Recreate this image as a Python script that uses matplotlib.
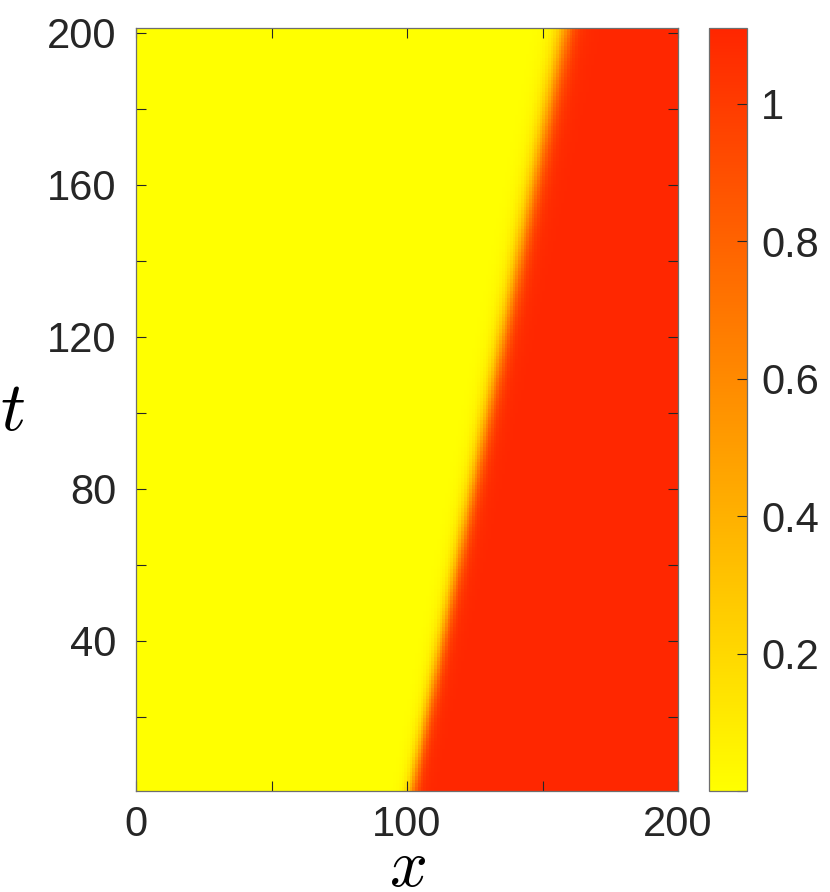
import numpy as np
import matplotlib.pyplot as plt
from matplotlib.colors import LinearSegmentedColormap

plt.rcParams["mathtext.fontset"] = "cm"
plt.rcParams["font.family"] = ["Liberation Sans", "DejaVu Sans"]

# grid of the simulation (cell centres)
x_vals = np.arange(0.5, 200, 1.0)
t_vals = np.arange(1, 201, 1.0)

# front: centre and width at the first and last time
front_start = 102.0
front_end = 158.5
width_start = 1.4
width_end = 2.2
u_left = 0.0
u_right = 1.1

x_ticks = [0, 100, 200]
t_ticks = [40, 80, 120, 160, 200]
cb_ticks = [0, 0.2, 0.4, 0.6, 0.8, 1.0]
cb_labels = ["", "0.2", "0.4", "0.6", "0.8", "1"]
clim = (0.0, 1.11)

frac = (t_vals - t_vals[0]) / (t_vals[-1] - t_vals[0])
centre = front_start + (front_end - front_start) * frac
width = width_start + (width_end - width_start) * frac
X, T = np.meshgrid(x_vals, t_vals)
u = u_left + (u_right - u_left) / (1 + np.exp(-(X - centre[:, None]) / width[:, None]))

cmap = LinearSegmentedColormap.from_list("yr", ["#ffff00", "#ff2600"])
ink = "#262626"
edge = "#6e6e6e"

fig = plt.figure(figsize=(8.3, 8.92), dpi=100)
ax = fig.add_axes([0.1639, 0.1132, 0.6530, 0.8554])
im = ax.imshow(u, origin="lower", cmap=cmap, vmin=clim[0], vmax=clim[1],
               extent=[0, 200, 0.5, 201.3], aspect="auto", interpolation="nearest")
ax.set_xlim(0, 200)
ax.set_ylim(0.5, 201.3)
ax.set_xticks(x_ticks)
ax.set_yticks(t_ticks)
ax.set_yticks([20, 60, 100, 140, 180], minor=True)
ax.set_xticks([50, 150], minor=True)
ax.tick_params(which="both", direction="in", top=True, right=True, color=ink,
               labelsize=30, labelcolor=ink, length=7, width=0.8)
ax.tick_params(axis="x", which="major", pad=10)
ax.tick_params(axis="y", which="major", pad=14)
for s in ax.spines.values():
    s.set_color(edge)
    s.set_linewidth(0.9)
ax.set_xlabel(r"$x$", fontsize=48, color="black", labelpad=-5)
ax.set_ylabel(r"$t$", fontsize=50, color="black", rotation=0, labelpad=0)
ax.yaxis.set_label_coords(-0.228, 0.455)

cax = fig.add_axes([0.8542, 0.1132, 0.0458, 0.8554])
cb = fig.colorbar(im, cax=cax)
cb.set_ticks(cb_ticks)
cb.set_ticklabels(cb_labels)
cax.tick_params(direction="in", color=ink, labelsize=30, labelcolor=ink,
                length=7, width=0.8, pad=10)
cb.outline.set_edgecolor(edge)
cb.outline.set_linewidth(0.9)

fig.savefig("out.png", dpi=100, facecolor="white")
